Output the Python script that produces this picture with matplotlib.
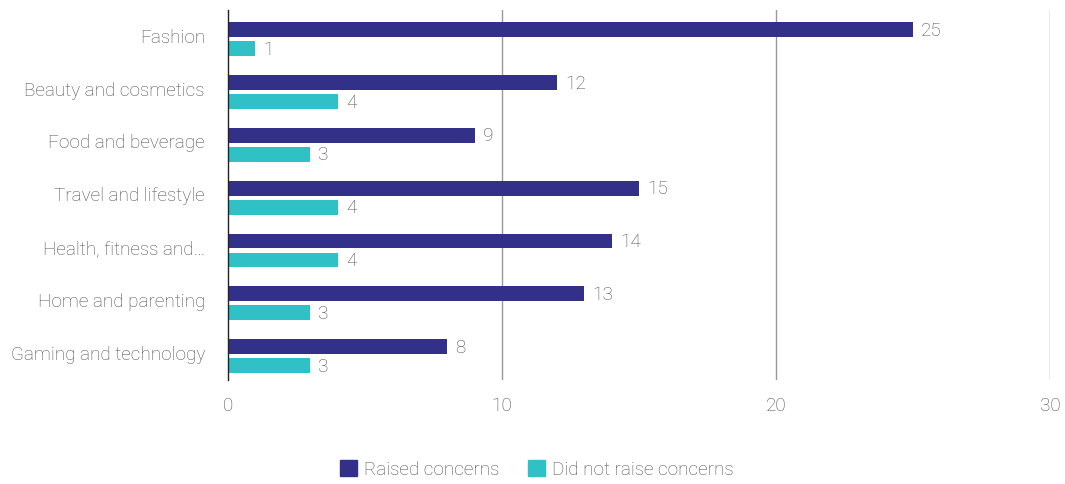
import numpy as np
import matplotlib.pyplot as plt
import matplotlib.transforms as mtransforms
from matplotlib.patches import Patch

categories = ['Fashion', 'Beauty and cosmetics', 'Food and beverage', 'Travel and lifestyle',
              'Health, fitness and\u2026', 'Home and parenting', 'Gaming and technology']
raised = [25, 12, 9, 15, 14, 13, 8]
not_raised = [1, 4, 3, 4, 4, 3, 3]

dark = '#33308a'
teal = '#30c1c6'
txt = '#505050'
fs = 13.6

plt.rcParams['font.family'] = ['Roboto', 'DejaVu Sans']
plt.rcParams['font.weight'] = 'light'

fig = plt.figure(figsize=(10.65, 4.84), dpi=100)
ax = fig.add_axes([0.214, 0.215, 0.772, 0.764])

y = np.arange(len(categories))
h = 0.28
b1 = ax.barh(y - 0.18, raised, height=h, color=dark)
b2 = ax.barh(y + 0.18, not_raised, height=h, color=teal)

for bars, vals in ((b1, raised), (b2, not_raised)):
    for b, v in zip(bars, vals):
        ax.text(b.get_width() + 0.3, b.get_y() + b.get_height() / 2 + 0.02, str(v),
                va='center', ha='left', fontsize=fs, color=txt, fontweight='light')

ax.set_xlim(0, 30)
ax.set_ylim(6.45, -0.55)
ax.set_xticks([0, 10, 20, 30])
ax.set_yticks(y)
ax.set_yticklabels(categories)
ax.tick_params(axis='y', length=0, pad=16.5, labelsize=fs, labelcolor=txt)
ax.tick_params(axis='x', length=0, pad=12, labelsize=fs, labelcolor=txt)
for lab in ax.get_xticklabels() + ax.get_yticklabels():
    lab.set_fontweight('light')
# nudge category labels up a little
up = mtransforms.ScaledTranslation(0, 3.5 / 100, fig.dpi_scale_trans)
for lab in ax.get_yticklabels():
    lab.set_transform(lab.get_transform() + up)

for gx in [10, 20, 30]:
    ax.axvline(gx, color='#999999', lw=1, zorder=0)
for s in ['top', 'right', 'bottom']:
    ax.spines[s].set_visible(False)
ax.spines['left'].set_color('#222222')
ax.spines['left'].set_linewidth(1)

handles = [Patch(color=dark, label='Raised concerns'),
           Patch(color=teal, label='Did not raise concerns')]
leg = fig.legend(handles=handles, loc='center', bbox_to_anchor=(0.504, 0.03), ncol=2,
                 frameon=False, fontsize=fs, handlelength=0.9, handleheight=0.9,
                 handletextpad=0.4, columnspacing=1.5)
for t in leg.get_texts():
    t.set_color(txt)
    t.set_fontweight('light')

fig.savefig('out.png', dpi=100)
